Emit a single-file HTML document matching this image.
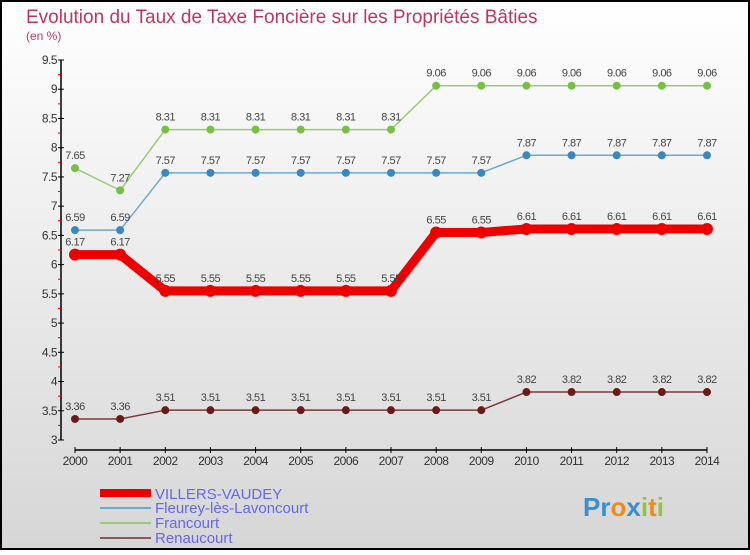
<!DOCTYPE html>
<html><head><meta charset="utf-8"><style>
body{margin:0}
svg text{font-family:"Liberation Sans",sans-serif}
</style></head><body>
<svg id="c" width="750" height="550" xmlns="http://www.w3.org/2000/svg">
<defs><linearGradient id="bg" x1="0" y1="0" x2="0" y2="1"><stop offset="0" stop-color="#ffffff"/><stop offset="1" stop-color="#d6d6d6"/></linearGradient></defs>
<rect x="1" y="1" width="748" height="548" fill="url(#bg)" stroke="#000" stroke-width="2"/>
<text x="26" y="23" font-size="19" fill="#c0365f">Evolution du Taux de Taxe Foncière sur les Propriétés Bâties</text>
<text x="26" y="40" font-size="12" fill="#c0365f">(en %)</text>
<g id="axes"></g><g id="series"></g>
<g>
<line x1="100" y1="493" x2="151" y2="493" stroke="#ee0000" stroke-width="8"/>
<text x="155" y="499" font-size="15" fill="#6666ee">VILLERS-VAUDEY</text>
<line x1="100" y1="508" x2="151" y2="508" stroke="#6fa8cc" stroke-width="2"/>
<text x="155" y="513" font-size="15" fill="#6666ee">Fleurey-lès-Lavoncourt</text>
<line x1="100" y1="523" x2="151" y2="523" stroke="#99cc77" stroke-width="2"/>
<text x="155" y="528" font-size="15" fill="#6666ee">Francourt</text>
<line x1="100" y1="538" x2="151" y2="538" stroke="#8a5a5a" stroke-width="2"/>
<text x="155" y="543" font-size="15" fill="#6666ee">Renaucourt</text>
</g>
<text x="583" y="516" font-size="26" font-weight="bold"><tspan fill="#3a8fd0">Pr</tspan><tspan fill="#f08a1c">o</tspan><tspan fill="#3a8fd0">x</tspan><tspan fill="#8cc63f">i</tspan><tspan fill="#f08a1c">t</tspan><tspan fill="#8cc63f">i</tspan></text>
</svg>
<script>
const years=[2000,2001,2002,2003,2004,2005,2006,2007,2008,2009,2010,2011,2012,2013,2014];
const yTicks=[3,3.5,4,4.5,5,5.5,6,6.5,7,7.5,8,8.5,9,9.5];
const villers=[6.17,6.17,5.55,5.55,5.55,5.55,5.55,5.55,6.55,6.55,6.61,6.61,6.61,6.61,6.61];
const fleurey=[6.59,6.59,7.57,7.57,7.57,7.57,7.57,7.57,7.57,7.57,7.87,7.87,7.87,7.87,7.87];
const francourt=[7.65,7.27,8.31,8.31,8.31,8.31,8.31,8.31,9.06,9.06,9.06,9.06,9.06,9.06,9.06];
const renaucourt=[3.36,3.36,3.51,3.51,3.51,3.51,3.51,3.51,3.51,3.51,3.82,3.82,3.82,3.82,3.82];
const NS='http://www.w3.org/2000/svg';
const x=i=>75+i*(707-75)/(years.length-1);
const y=v=>440-(v-3)*(380/6.5);
function mk(t,a,p){const e=document.createElementNS(NS,t);for(const k in a)e.setAttribute(k,a[k]);p.appendChild(e);return e;}
const ax=document.getElementById('axes');
const ya=mk('line',{x1:61,y1:60,x2:61,y2:440,stroke:'#000','stroke-width':1.5},ax);


yTicks.forEach(v=>{
 mk('line',{x1:58,y1:y(v),x2:64,y2:y(v),stroke:'#000'},ax);
 if(v<9.5)mk('line',{x1:58,y1:y(v+0.25),x2:61,y2:y(v+0.25),stroke:'#e00'},ax);
 const t=mk('text',{x:57,y:y(v)+4,'font-size':12,fill:'#333','text-anchor':'end','letter-spacing':'-0.5'},ax);
 t.textContent=String(v);
 
 
});
const xa=mk('line',{x1:75,y1:450,x2:707,y2:450,stroke:'#000','stroke-width':1.5},ax);


years.forEach((yr,i)=>{
 mk('line',{x1:x(i),y1:447,x2:x(i),y2:453,stroke:'#000'},ax);
 const t=mk('text',{x:x(i),y:465,'font-size':12,fill:'#333','text-anchor':'middle','letter-spacing':'-0.5'},ax);
 t.textContent=yr;
 
 
});
const sg=document.getElementById('series');
function draw(vals,color,w,r,name,dot){
 const g=mk('g',{},sg);
 
 
 mk('polyline',{points:vals.map((v,i)=>x(i)+','+y(v)).join(' '),fill:'none',stroke:color,'stroke-width':w,'stroke-linejoin':'round'},g);
 vals.forEach((v,i)=>{
  const c=mk('circle',{cx:x(i),cy:y(v),r:r,fill:dot},g);
  
  
  const t=mk('text',{x:x(i),y:y(v)-9,'font-size':11,fill:'#444','text-anchor':'middle','letter-spacing':'-0.5'},g);
  t.textContent=v.toFixed(2).replace(/0$/,'').replace(/\.$/,'');
  t.textContent=String(v);
  
  
 });
}
draw(renaucourt,'#7a3a3a',1.5,4,'renaucourt','#6b1a1a');
draw(francourt,'#99cc77',1.5,4,'francourt','#77c044');
draw(fleurey,'#6fa8cc',1.5,4,'fleurey','#3a88c0');
draw(villers,'#ee0000',9,6,'villers-vaudey','#ee0000');
</script>
</body></html>
